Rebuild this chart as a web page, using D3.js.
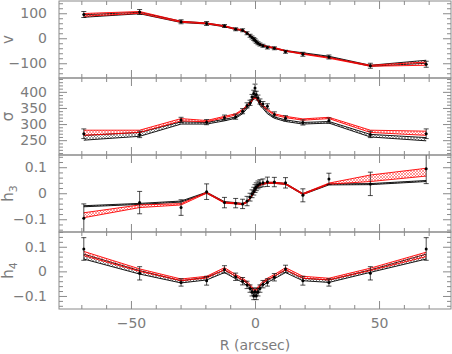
<!DOCTYPE html>
<html>
<head>
<meta charset="utf-8">
<script src="https://cdn.jsdelivr.net/npm/d3@7"></script>
<style>
body { margin: 0; background: #fff; }
text { font-family: "DejaVu Sans", sans-serif; }
</style>
</head>
<body>
<div id="chart"></div>
<script>
// radii of the measured points (arcsec)
var R = [-69, -46.5, -29.8, -19.5, -12.3, -7.8, -5, -3.2, -2, -1.2, -0.5, 0, 0.5, 1.2, 2, 3.2, 5, 7.8, 12.3, 19.3, 29.8, 46.5, 69];

// velocity
var vObs = [95, 105, 66, 59, 49, 36, 32, 20, 10, 3, -3, -8, -14, -20, -25, -30, -37, -40, -54, -64, -75, -110, -104];
var vErr = [12, 10, 8, 8, 6, 6, 6, 6, 6, 6, 6, 6, 6, 6, 6, 6, 6, 6, 6, 8, 8, 10, 12];
var vBlackLo = [84, 98, 63, 57, 46, 35, 30, 19, 9, 2, -4, -10, -16, -21, -26, -31, -36, -41, -52, -62, -76, -112, -100];
var vBlackHi = [94, 104, 68, 61, 50, 38, 33, 22, 12, 5, -1, -7, -13, -18, -23, -28, -33, -38, -49, -58, -72, -108, -88];
var vRedLo = [88, 100, 64, 58, 47, 35, 31, 20, 10, 3, -3, -9, -15, -20, -25, -30, -35, -40, -52, -64, -80, -112, -108];
var vRedHi = [99, 107, 68, 61, 50, 38, 34, 23, 13, 6, 0, -6, -12, -17, -22, -27, -32, -37, -49, -61, -77, -108, -95];

// dispersion
var sigObs = [270, 268, 313, 306, 320, 323, 340, 358, 366, 384, 395, 412, 392, 382, 370, 362, 355, 330, 318, 305, 311, 268, 270];
var sigErr = [15, 10, 8, 8, 8, 8, 8, 8, 8, 8, 10, 12, 10, 8, 8, 8, 8, 8, 8, 8, 8, 10, 15];
var sigBlackLo = [250, 262, 300, 300, 310, 318, 332, 348, 358, 370, 380, 385, 380, 370, 358, 348, 332, 318, 308, 300, 303, 260, 248];
var sigBlackHi = [265, 274, 307, 305, 315, 322, 337, 353, 363, 376, 386, 390, 386, 376, 363, 353, 337, 322, 313, 305, 308, 268, 258];
var sigRedLo = [265, 274, 310, 307, 320, 328, 342, 355, 364, 372, 378, 380, 378, 372, 364, 355, 342, 328, 320, 312, 317, 274, 265];
var sigRedHi = [281, 281, 317, 311, 324, 332, 346, 359, 368, 376, 382, 384, 382, 376, 368, 359, 346, 332, 324, 316, 321, 281, 278];

// h3
var h3Obs = [-0.096, -0.036, -0.055, 0.006, -0.036, -0.038, -0.041, -0.03, -0.015, -0.002, 0.008, 0.018, 0.025, 0.032, 0.037, 0.04, 0.044, 0.043, 0.04, -0.008, 0.055, 0.036, 0.094];
var h3Err = [0.055, 0.043, 0.03, 0.03, 0.02, 0.018, 0.018, 0.018, 0.015, 0.015, 0.015, 0.015, 0.015, 0.015, 0.015, 0.015, 0.018, 0.018, 0.02, 0.025, 0.022, 0.045, 0.057];
var h3BlackLo = [-0.052, -0.043, -0.034, 0.0, -0.036, -0.04, -0.043, -0.035, -0.022, -0.01, 0.0, 0.01, 0.018, 0.025, 0.03, 0.034, 0.038, 0.038, 0.034, -0.005, 0.032, 0.033, 0.045];
var h3BlackHi = [-0.048, -0.039, -0.03, 0.004, -0.032, -0.036, -0.039, -0.031, -0.018, -0.006, 0.004, 0.014, 0.022, 0.029, 0.034, 0.038, 0.042, 0.042, 0.038, -0.001, 0.036, 0.037, 0.049];
var h3RedLo = [-0.094, -0.055, -0.045, 0.0, -0.038, -0.041, -0.044, -0.036, -0.022, -0.01, 0.0, 0.01, 0.018, 0.025, 0.03, 0.034, 0.038, 0.038, 0.034, -0.005, 0.035, 0.045, 0.066];
var h3RedHi = [-0.075, -0.045, -0.04, 0.004, -0.034, -0.037, -0.04, -0.032, -0.018, -0.006, 0.004, 0.014, 0.022, 0.029, 0.034, 0.038, 0.042, 0.042, 0.038, -0.001, 0.039, 0.07, 0.096];

// h4
var h4Obs = [0.091, -0.008, -0.045, -0.038, 0.008, -0.022, -0.04, -0.055, -0.07, -0.085, -0.1, -0.082, -0.1, -0.085, -0.07, -0.052, -0.045, -0.024, 0.01, -0.038, -0.045, -0.008, 0.091];
var h4Err = [0.046, 0.027, 0.015, 0.018, 0.015, 0.015, 0.015, 0.015, 0.015, 0.015, 0.015, 0.015, 0.015, 0.015, 0.015, 0.015, 0.015, 0.015, 0.015, 0.018, 0.015, 0.027, 0.046];
var h4BlackLo = [0.05, -0.011, -0.047, -0.035, -0.005, -0.03, -0.045, -0.058, -0.07, -0.083, -0.095, -0.1, -0.095, -0.083, -0.07, -0.058, -0.045, -0.03, -0.005, -0.038, -0.045, -0.004, 0.05];
var h4BlackHi = [0.07, 0.003, -0.038, -0.024, 0.006, -0.02, -0.035, -0.048, -0.06, -0.073, -0.085, -0.09, -0.085, -0.073, -0.06, -0.048, -0.035, -0.02, 0.006, -0.028, -0.035, 0.006, 0.07];
var h4RedLo = [0.064, 0.0, -0.038, -0.027, 0.006, -0.02, -0.035, -0.048, -0.06, -0.07, -0.078, -0.082, -0.078, -0.07, -0.06, -0.048, -0.035, -0.02, 0.006, -0.028, -0.035, 0.003, 0.06];
var h4RedHi = [0.081, 0.01, -0.031, -0.02, 0.015, -0.013, -0.028, -0.041, -0.053, -0.063, -0.071, -0.075, -0.071, -0.063, -0.053, -0.041, -0.028, -0.013, 0.015, -0.02, -0.028, 0.013, 0.078];

var xMajor = [-50, 0, 50],
    xMinor = [-70, -60, -40, -30, -20, -10, 10, 20, 30, 40, 60, 70];

var width = 452, height = 354,
    left = 59, right = 451,
    panelH = 77, top0 = 1,
    axisColor = "#8a8a8a",
    textColor = "#7c7c7c";

var panels = [
  {name: "v", sub: "", obs: vObs, err: vErr, bLo: vBlackLo, bHi: vBlackHi, rLo: vRedLo, rHi: vRedHi,
   domain: [-159, 149], major: [-100, 0, 100], minorStep: 20},
  {name: "\u03c3", sub: "", obs: sigObs, err: sigErr, bLo: sigBlackLo, bHi: sigBlackHi, rLo: sigRedLo, rHi: sigRedHi,
   domain: [204, 443], major: [250, 300, 350, 400], minorStep: 10},
  {name: "h", sub: "3", obs: h3Obs, err: h3Err, bLo: h3BlackLo, bHi: h3BlackHi, rLo: h3RedLo, rHi: h3RedHi,
   domain: [-0.149, 0.147], major: [-0.1, 0, 0.1], minorStep: 0.02},
  {name: "h", sub: "4", obs: h4Obs, err: h4Err, bLo: h4BlackLo, bHi: h4BlackHi, rLo: h4RedLo, rHi: h4RedHi,
   domain: [-0.153, 0.16], major: [-0.1, 0, 0.1], minorStep: 0.02}
];

var x = d3.scaleLinear().domain([-79, 79]).range([left, right]);

var svg = d3.select("#chart").append("svg")
    .attr("width", width)
    .attr("height", height);

var defs = svg.append("defs");
hatch("hatchBlack", "#333");
hatch("hatchRed", "#ff2020");

function hatch(id, color) {
  var p = defs.append("pattern")
      .attr("id", id)
      .attr("patternUnits", "userSpaceOnUse")
      .attr("width", 3)
      .attr("height", 3);
  p.append("path")
      .attr("d", "M0,3 L3,0 M-1,1 L1,-1 M2,4 L4,2")
      .attr("stroke", color)
      .attr("stroke-width", 0.45);
  p.append("path")
      .attr("d", "M0,0 L3,3 M-1,2 L1,4 M2,-1 L4,1")
      .attr("stroke", color)
      .attr("stroke-width", 0.45);
}

panels.forEach(function(p, i) {
  var top = top0 + i * panelH,
      bottom = top + panelH;
  var y = d3.scaleLinear().domain(p.domain).range([bottom, top]);
  var g = svg.append("g");

  var clipId = "clip" + i;
  defs.append("clipPath").attr("id", clipId)
    .append("rect")
      .attr("x", left).attr("y", top)
      .attr("width", right - left).attr("height", panelH);

  var plot = g.append("g").attr("clip-path", "url(#" + clipId + ")");

  drawBand(plot, p.bLo, p.bHi, y, "url(#hatchBlack)", "#000");
  drawBand(plot, p.rLo, p.rHi, y, "url(#hatchRed)", "#ff0000");

  // error bars
  var pts = R.map(function(r, j) { return {r: r, v: p.obs[j], e: p.err[j]}; });
  var eb = plot.selectAll("g.eb")
      .data(pts)
    .enter().append("g")
      .attr("class", "eb")
      .attr("stroke", "#000")
      .attr("stroke-width", 0.7);
  eb.append("line")
      .attr("x1", function(d) { return x(d.r); })
      .attr("x2", function(d) { return x(d.r); })
      .attr("y1", function(d) { return y(d.v - d.e); })
      .attr("y2", function(d) { return y(d.v + d.e); });
  eb.append("line")
      .attr("x1", function(d) { return x(d.r) - 2.5; })
      .attr("x2", function(d) { return x(d.r) + 2.5; })
      .attr("y1", function(d) { return y(d.v - d.e); })
      .attr("y2", function(d) { return y(d.v - d.e); });
  eb.append("line")
      .attr("x1", function(d) { return x(d.r) - 2.5; })
      .attr("x2", function(d) { return x(d.r) + 2.5; })
      .attr("y1", function(d) { return y(d.v + d.e); })
      .attr("y2", function(d) { return y(d.v + d.e); });
  plot.selectAll("circle.pt")
      .data(pts)
    .enter().append("circle")
      .attr("class", "pt")
      .attr("cx", function(d) { return x(d.r); })
      .attr("cy", function(d) { return y(d.v); })
      .attr("r", 1.5)
      .attr("fill", "#000");

  // axes, ticks pointing inward
  var minor = d3.range(Math.ceil(p.domain[0] / p.minorStep) * p.minorStep, p.domain[1], p.minorStep)
      .filter(function(v) { return p.major.every(function(m) { return Math.abs(m - v) > 1e-9; }); });

  axisGroup(g, d3.axisLeft(y).tickValues(p.major).tickSize(-8).tickPadding(12).tickFormat(d3.format("")), "translate(" + left + ",0)");
  axisGroup(g, d3.axisLeft(y).tickValues(minor).tickSize(-4).tickFormat(""), "translate(" + left + ",0)");
  axisGroup(g, d3.axisRight(y).tickValues(p.major).tickSize(-8).tickFormat(""), "translate(" + right + ",0)");
  axisGroup(g, d3.axisRight(y).tickValues(minor).tickSize(-4).tickFormat(""), "translate(" + right + ",0)");
  axisGroup(g, d3.axisTop(x).tickValues(xMajor).tickSize(-8).tickFormat(""), "translate(0," + top + ")");
  axisGroup(g, d3.axisTop(x).tickValues(xMinor).tickSize(-4).tickFormat(""), "translate(0," + top + ")");
  var bottomAxis = d3.axisBottom(x).tickValues(xMajor).tickSize(-8).tickPadding(9);
  if (i < panels.length - 1) bottomAxis.tickFormat("");
  axisGroup(g, bottomAxis, "translate(0," + bottom + ")");
  axisGroup(g, d3.axisBottom(x).tickValues(xMinor).tickSize(-4).tickFormat(""), "translate(0," + bottom + ")");

  g.append("rect")
      .attr("x", left).attr("y", top)
      .attr("width", right - left).attr("height", panelH)
      .attr("fill", "none")
      .attr("stroke", axisColor)
      .attr("stroke-width", 1);

  var lab = g.append("text")
      .attr("transform", "translate(13," + ((top + bottom) / 2) + ") rotate(-90)")
      .attr("text-anchor", "middle")
      .attr("fill", textColor)
      .attr("font-size", 15)
      .text(p.name);
  if (p.sub) {
    lab.append("tspan")
        .attr("dy", 4)
        .attr("font-size", 11)
        .text(p.sub);
  }
});

svg.append("text")
    .attr("x", x(0))
    .attr("y", 350)
    .attr("text-anchor", "middle")
    .attr("fill", textColor)
    .attr("font-size", 14)
    .text("R (arcsec)");

function drawBand(plot, lo, hi, y, fill, color) {
  var rows = R.map(function(r, j) { return {r: r, lo: lo[j], hi: hi[j]}; });
  plot.append("path")
      .datum(rows)
      .attr("fill", fill)
      .attr("d", d3.area()
          .x(function(d) { return x(d.r); })
          .y0(function(d) { return y(d.lo); })
          .y1(function(d) { return y(d.hi); }));
  ["lo", "hi"].forEach(function(k) {
    plot.append("path")
        .datum(rows)
        .attr("fill", "none")
        .attr("stroke", color)
        .attr("stroke-width", 0.9)
        .attr("d", d3.line()
            .x(function(d) { return x(d.r); })
            .y(function(d) { return y(d[k]); }));
  });
}

function axisGroup(g, axis, transform) {
  var a = g.append("g")
      .attr("transform", transform)
      .call(axis);
  a.select(".domain").remove();
  a.selectAll("line").attr("stroke", axisColor);
  a.selectAll("text")
      .attr("fill", textColor)
      .attr("font-size", 14)
      .attr("font-family", "DejaVu Sans, sans-serif");
  return a;
}
</script>
</body>
</html>
